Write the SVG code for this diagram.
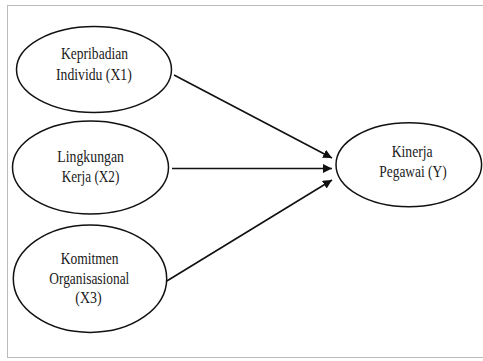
<svg xmlns="http://www.w3.org/2000/svg" width="483" height="361" viewBox="0 0 483 361">
<style>
.n{fill:#fff;stroke:#111;stroke-width:1.5}
.t{font-family:"Liberation Serif","Times New Roman",serif;font-size:17px;fill:#1a1a1a}
.c{stroke:#111;stroke-width:1.6;fill:none;marker-end:url(#ah)}
.b{fill:none;stroke:#777;stroke-width:1;stroke-dasharray:1 1}
</style>
<defs>
<marker id="ah" viewBox="0 0 10 10" refX="10" refY="5" markerWidth="9" markerHeight="9" markerUnits="userSpaceOnUse" orient="auto">
<path d="M0,0 L10,5 L0,10 z" fill="#111"/>
</marker>
</defs>
<rect class="b" x="7.5" y="5.5" width="480" height="352"/>
<g id="connectors">
<line class="c" x1="174" y1="75" x2="332" y2="158"/>
<line class="c" x1="172" y1="168.5" x2="332" y2="168.5"/>
<line class="c" x1="166" y1="281.5" x2="332" y2="180"/>
</g>
<g id="x1">
<ellipse class="n" cx="94" cy="69.5" rx="77.5" ry="43"/>
<text class="t" x="61" y="59" textLength="67" lengthAdjust="spacingAndGlyphs">Kepribadian</text>
<text class="t" x="56" y="79.5" textLength="75.7" lengthAdjust="spacingAndGlyphs">Individu (X1)</text>
</g>
<g id="x2">
<ellipse class="n" cx="90.5" cy="167.5" rx="78" ry="46.5"/>
<text class="t" x="57.3" y="161.5" textLength="66.7" lengthAdjust="spacingAndGlyphs">Lingkungan</text>
<text class="t" x="61.7" y="182" textLength="57.7" lengthAdjust="spacingAndGlyphs">Kerja (X2)</text>
</g>
<g id="x3">
<ellipse class="n" cx="90" cy="278.7" rx="76.7" ry="53.7"/>
<text class="t" x="60.7" y="264" textLength="57.7" lengthAdjust="spacingAndGlyphs">Komitmen</text>
<text class="t" x="49.3" y="283.5" textLength="80" lengthAdjust="spacingAndGlyphs">Organisasional</text>
<text class="t" x="75.3" y="302.5" textLength="26.3" lengthAdjust="spacingAndGlyphs">(X3)</text>
</g>
<g id="y">
<ellipse class="n" cx="408.8" cy="164.7" rx="72.8" ry="42"/>
<text class="t" x="391.7" y="156.5" textLength="41" lengthAdjust="spacingAndGlyphs">Kinerja</text>
<text class="t" x="379.3" y="177" textLength="67.4" lengthAdjust="spacingAndGlyphs">Pegawai (Y)</text>
</g>
</svg>
